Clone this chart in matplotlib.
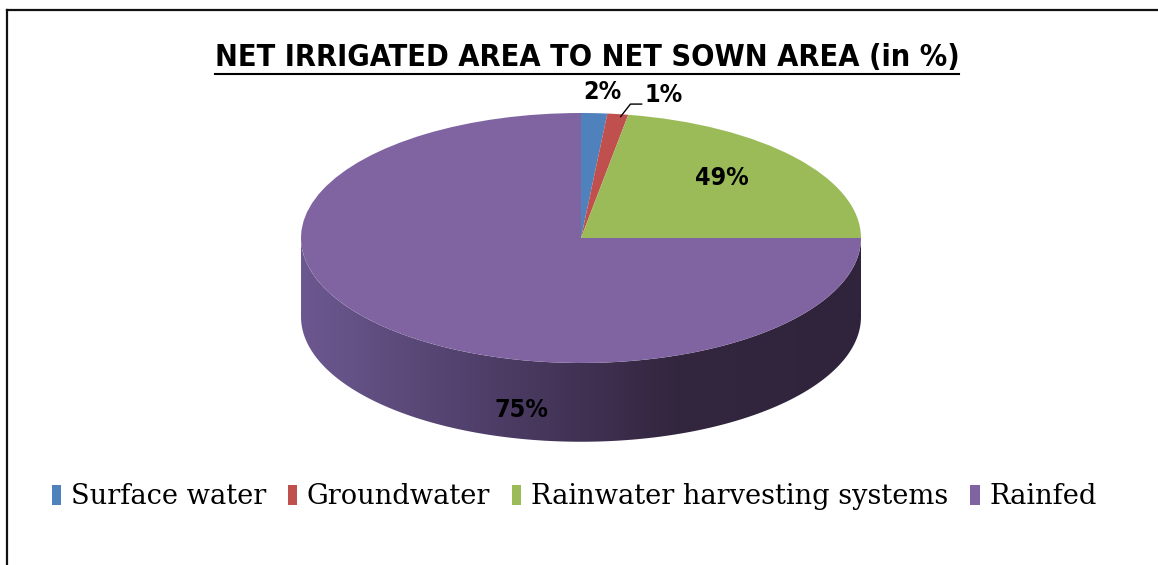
import matplotlib
matplotlib.use("Agg")
import matplotlib.pyplot as plt  # noqa: E402
import numpy as np  # noqa: E402
from matplotlib.colors import LinearSegmentedColormap  # noqa: E402
from matplotlib.lines import Line2D  # noqa: E402
from matplotlib.patches import Patch, Polygon  # noqa: E402

# ---------------------------------------------------------------------------
# Data (slice sizes, labels as printed on the chart)
# ---------------------------------------------------------------------------
CATEGORIES = ["Surface water", "Groundwater", "Rainwater harvesting systems", "Rainfed"]
SLICE_SIZES = [1.5, 1.2, 22.3, 75.0]
SLICE_LABELS = ["2%", "1%", "49%", "75%"]
TITLE = "NET IRRIGATED AREA TO NET SOWN AREA (in %)"

COLORS = ["#4F81BD", "#C0504D", "#9BBB59", "#8064A2"]
SIDE_COLORS = ["#6C5890", "#4E3E68", "#33263F", "#30243C"]

W, H = 1158, 565
DEPTH = 0.63  # pie thickness in y data units

fig = plt.figure(figsize=(W / 100, H / 100), dpi=100)
fig.patch.set_facecolor("white")

# chart border (left + top only visible)
fig.add_artist(Line2D([7 / W, 7 / W], [0, 1 - 10 / H], color="#111111", lw=1.6))
fig.add_artist(Line2D([7 / W, 1], [1 - 10 / H, 1 - 10 / H], color="#111111", lw=1.6))

# pie axes: 280 px per x unit, 125 px per y unit -> squashed ellipse
ax = fig.add_axes([231 / W, (H - 475.5) / H, 700 / W, 393.75 / H])
wedges, _ = ax.pie(SLICE_SIZES, colors=COLORS, startangle=90, counterclock=False,
                   wedgeprops={"linewidth": 0, "antialiased": True}, radius=1.0)
ax.set_aspect("auto")
ax.axis("off")
for w in wedges:
    w.set_zorder(3)

# side of the cylinder (front half) with left-to-right shading
t = np.linspace(np.pi, 2 * np.pi, 200)
top_edge = np.column_stack([np.cos(t), np.sin(t)])
bot_edge = np.column_stack([np.cos(t[::-1]), np.sin(t[::-1]) - DEPTH])
side = Polygon(np.vstack([top_edge, bot_edge]), closed=True, facecolor="none",
               edgecolor="none", transform=ax.transData)
ax.add_patch(side)
cmap = LinearSegmentedColormap.from_list("side", SIDE_COLORS)
grad = np.linspace(0, 1, 256).reshape(1, -1)
img = ax.imshow(grad, cmap=cmap, extent=[-1, 1, -1 - DEPTH, 0], aspect="auto",
                zorder=2, interpolation="bilinear")
img.set_clip_path(side)
ax.set_xlim(-1.25, 1.25)
ax.set_ylim(-1.9, 1.25)

# data labels
lab_font = dict(family="DejaVu Sans", stretch="condensed", fontsize=18,
                fontweight="bold", color="black", ha="center", va="center", zorder=5)


def mid_xy(w, r):
    a = np.deg2rad((w.theta1 + w.theta2) / 2)
    return r * np.cos(a), r * np.sin(a)


x0, y0 = mid_xy(wedges[0], 1.17)
ax.text(x0 + 0.02, y0, SLICE_LABELS[0], **lab_font)

ax1, ay1 = mid_xy(wedges[1], 1.0)
ax.plot([ax1 + 0.01, ax1 + 0.045, ax1 + 0.085], [ay1 - 0.02, ay1 + 0.08, ay1 + 0.08],
        color="black", lw=1.0, zorder=5)
ax.text(ax1 + 0.165, ay1 + 0.15, SLICE_LABELS[1], **lab_font)

x2, y2 = mid_xy(wedges[2], 0.67)
ax.text(x2 - 0.01, y2 + 0.05, SLICE_LABELS[2], **lab_font)

ax.text(-0.214, -1.376, SLICE_LABELS[3], **lab_font)

# title with underline
title = fig.text(587 / W, 1 - 58 / H, TITLE, ha="center", va="center",
                 family="DejaVu Sans", stretch="condensed", fontsize=22,
                 fontweight="bold", color="black")

# legend
handles = [Patch(facecolor=c, edgecolor="none") for c in COLORS]
fig.legend(handles, CATEGORIES, loc="center", bbox_to_anchor=(574 / W, 1 - 497 / H),
           ncol=4, frameon=False, handlelength=0.35, handleheight=0.75,
           handletextpad=0.35, columnspacing=0.8,
           prop={"family": "DejaVu Serif", "size": 19.6})

fig.canvas.draw()
bb = title.get_window_extent(fig.canvas.get_renderer())
fig.add_artist(Line2D([bb.x0 / W, bb.x1 / W], [1 - 74 / H, 1 - 74 / H],
                      color="black", lw=1.5))

fig.savefig("out.png", dpi=100, facecolor="white")
